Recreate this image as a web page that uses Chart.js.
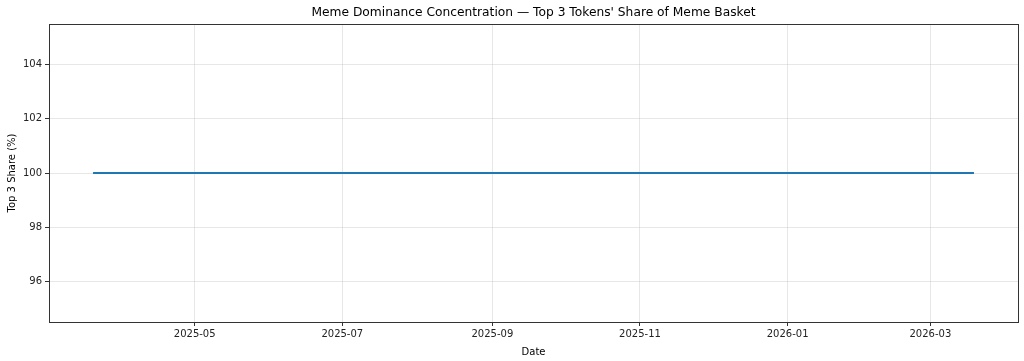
<!DOCTYPE html>
<html>
<head>
<meta charset="utf-8">
<script src="https://cdn.jsdelivr.net/npm/chart.js@4.4.1/dist/chart.umd.min.js"></script>
<style>
  html, body { margin: 0; padding: 0; background: #ffffff; }
  #wrap { width: 1024px; height: 361px; }
</style>
</head>
<body>
<div id="wrap"><canvas id="c" width="1024" height="361"></canvas></div>
<script>
// ---- data ----
const chartTitle = "Meme Dominance Concentration \u2014 Top 3 Tokens' Share of Meme Basket";
const xLabel = "Date";
const yLabel = "Top 3 Share (%)";
const dates = ["2025-03-20","2025-04-20","2025-05-20","2025-06-20","2025-07-20","2025-08-20",
               "2025-09-20","2025-10-20","2025-11-20","2025-12-20","2026-01-20","2026-02-20","2026-03-19"];
const top3Share = [100,100,100,100,100,100,100,100,100,100,100,100,100];
const xTickLabels = ["2025-05","2025-07","2025-09","2025-11","2026-01","2026-03"];
const yTickValues = [96, 98, 100, 102, 104];
const yMin = 94.5, yMax = 105.5;

// ---- helpers ----
const DAY = 86400000;
function toDay(s) {
  const p = s.split('-').map(Number);
  return Date.UTC(p[0], p[1] - 1, p[2] || 1) / DAY;
}
const points = dates.map((d, i) => ({ x: toDay(d), y: top3Share[i] }));
const xFirst = points[0].x, xLast = points[points.length - 1].x;
const span = xLast - xFirst;
const xMin = xFirst - 0.05 * span, xMax = xLast + 0.05 * span;
const xTickMap = {};
xTickLabels.forEach(l => { xTickMap[toDay(l)] = l; });

const FONT = "'DejaVu Sans', sans-serif";
const gridColor = 'rgba(176,176,176,0.3)';

const frame = {
  id: 'frame',
  afterDatasetsDraw(chart) {
    const a = chart.chartArea, ctx = chart.ctx;
    ctx.save();
    ctx.strokeStyle = '#333333';
    ctx.lineWidth = 1;
    ctx.strokeRect(Math.round(a.left) + 0.5, Math.round(a.top) + 0.5,
                   Math.round(a.right - a.left), Math.round(a.bottom - a.top));
    ctx.restore();
  },
  afterDraw(chart) {
    const a = chart.chartArea, ctx = chart.ctx;
    ctx.save();
    ctx.fillStyle = '#000000';
    ctx.font = "12.25px " + FONT;
    ctx.textAlign = 'center';
    ctx.textBaseline = 'middle';
    ctx.fillText(chartTitle, (a.left + a.right) / 2, 13);
    ctx.restore();
  }
};

new Chart(document.getElementById('c'), {
  type: 'line',
  data: {
    datasets: [{
      data: points,
      borderColor: '#1f77b4',
      borderWidth: 2,
      pointRadius: 0,
      fill: false,
      tension: 0
    }]
  },
  options: {
    responsive: false,
    animation: false,
    devicePixelRatio: 1,
    layout: { padding: { left: 0, right: 6, top: 24, bottom: 0 } },
    plugins: {
      legend: { display: false },
      tooltip: { enabled: false },
      title: { display: false }
    },
    scales: {
      x: {
        type: 'linear',
        min: xMin, max: xMax,
        afterBuildTicks(scale) {
          scale.ticks = Object.keys(xTickMap).map(v => ({ value: Number(v) }));
        },
        afterFit(scale) { scale.height = 39; },
        ticks: {
          autoSkip: false,
          maxRotation: 0,
          color: '#222222',
          font: { family: FONT, size: 10 },
          padding: 2,
          callback: (v) => xTickMap[v] || ''
        },
        grid: {
          color: gridColor,
          lineWidth: 1,
          drawTicks: true,
          tickLength: 4,
          tickColor: '#333333'
        },
        border: { display: false },
        title: {
          display: true,
          text: xLabel,
          color: '#000000',
          font: { family: FONT, size: 10 },
          padding: { top: 2, bottom: 3 }
        }
      },
      y: {
        type: 'linear',
        min: yMin, max: yMax,
        afterBuildTicks(scale) {
          scale.ticks = yTickValues.map(v => ({ value: v }));
        },
        afterFit(scale) { scale.width = 49; },
        ticks: {
          color: '#222222',
          font: { family: FONT, size: 10 },
          padding: 3,
          callback: (v) => String(v)
        },
        grid: {
          color: gridColor,
          lineWidth: 1,
          drawTicks: true,
          tickLength: 4,
          tickColor: '#333333'
        },
        border: { display: false },
        title: {
          display: true,
          text: yLabel,
          color: '#000000',
          font: { family: FONT, size: 10 },
          padding: { top: 6, bottom: 2 }
        }
      }
    }
  },
  plugins: [frame]
});
</script>
</body>
</html>
